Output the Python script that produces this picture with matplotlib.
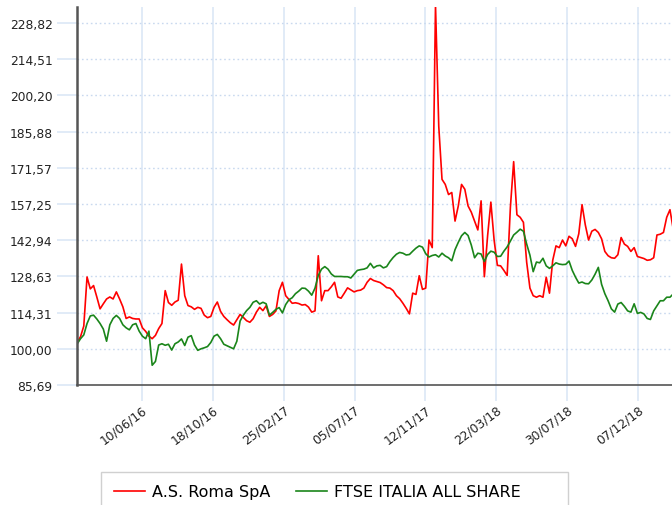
import numpy as np
import pandas as pd
import matplotlib
matplotlib.use('Agg')
import matplotlib.pyplot as plt
import matplotlib.dates as mdates
from matplotlib.patches import Rectangle

# weekly-ish closes, rebased to 100
dates = pd.date_range('2016-02-13', '2019-02-09', periods=184)

roma = [
    102.6, 104.8, 109.0, 128.4, 123.7, 125.0, 120.5, 115.8, 117.8, 119.7,
    120.5, 119.7, 122.5, 119.7, 116.6, 112.0, 112.6, 112.0, 111.8, 111.8,
    108.3, 106.9, 105.0, 104.0, 105.3, 108.0, 110.0, 123.0, 118.3, 117.2,
    118.5, 119.2, 133.5, 121.0, 117.1, 116.6, 115.6, 116.4, 116.0, 113.3,
    112.3, 112.8, 116.4, 118.5, 114.8, 112.8, 111.5, 110.3, 109.4, 111.5,
    113.6, 112.4, 111.1, 110.5, 111.9, 114.5, 116.4, 115.1, 117.0, 112.8,
    113.6, 115.0, 123.0, 126.3, 121.0, 119.5, 118.0, 118.2, 117.9, 117.3,
    117.5, 116.5, 114.5, 115.0, 136.8, 119.0, 123.0, 123.0, 124.5, 126.3,
    120.5, 120.0, 122.0, 124.1, 123.3, 122.5, 123.0, 123.2, 124.0, 126.3,
    127.8, 127.0, 126.6, 126.2, 125.3, 124.2, 124.0, 123.0, 121.0, 119.8,
    118.0, 116.0, 113.8, 122.0, 121.5, 128.9, 123.5, 124.0, 143.0, 140.0,
    236.0, 188.0, 167.0, 165.0, 161.0, 161.8, 150.5, 156.5, 165.0, 163.1,
    156.5, 154.0, 150.5, 147.0, 158.5, 128.5, 144.7, 158.0, 143.0, 133.0,
    132.8, 131.0, 129.0, 156.0, 174.0, 153.0, 152.0, 150.0, 134.2, 124.0,
    121.0, 120.4, 121.0, 120.4, 128.3, 122.0, 135.0, 140.7, 140.0, 143.0,
    140.7, 144.5, 143.5, 140.5, 145.5, 157.0, 149.0, 143.0, 146.5, 147.2,
    146.0, 143.5, 138.5, 136.8, 136.0, 135.8, 137.2, 144.0, 141.4, 140.5,
    138.5, 140.0, 136.5, 136.1, 135.7, 135.0, 135.2, 136.0, 145.0, 145.3,
    146.0, 152.0, 155.0, 147.3,
]

ftse = [
    102.0, 104.0, 105.5, 110.0, 113.0, 113.3, 111.8, 110.0, 107.8, 103.0,
    109.5, 112.0, 113.2, 112.0, 109.5, 108.3, 107.5, 109.5, 110.0, 107.0,
    105.0, 104.0, 107.0, 93.5, 95.0, 101.5, 102.0, 101.4, 101.8, 99.5,
    102.0, 102.7, 103.9, 101.3, 104.6, 105.2, 101.5, 99.4, 100.0, 100.4,
    100.9, 102.5, 105.0, 105.7, 104.0, 101.8, 101.2, 100.6, 100.0, 103.0,
    111.0, 113.3, 115.1, 116.4, 118.4, 119.0, 117.7, 118.4, 117.8, 113.3,
    114.4, 115.6, 116.3, 114.2, 117.5, 119.4, 120.2, 121.8, 122.8, 124.0,
    123.9, 122.8, 121.2, 124.0, 129.0, 131.5, 132.5, 131.5, 129.6, 128.6,
    128.6, 128.6, 128.5, 128.5, 128.0, 129.5, 131.0, 131.3, 131.5, 132.0,
    133.8, 132.0, 132.8, 133.0, 132.0, 132.5, 134.5, 136.1, 137.4, 138.1,
    137.8, 137.1, 137.3, 138.6, 139.8, 140.7, 140.2, 137.6, 136.3, 136.9,
    137.2, 136.3, 137.8, 136.7, 136.0, 134.8, 139.2, 142.1, 144.7, 146.0,
    144.8, 141.0, 136.0, 137.8, 137.5, 134.5, 137.3, 138.6, 138.2, 136.5,
    136.6, 138.6, 140.3, 142.6, 145.0, 146.1, 147.3, 146.5, 141.4, 137.0,
    130.5, 134.3, 134.0, 135.8, 132.8, 131.8, 132.8, 134.0, 133.5, 133.3,
    133.4, 134.7, 131.0, 128.3, 126.0, 126.4, 125.8, 125.7, 127.2, 129.5,
    132.2, 125.5, 121.8, 119.0, 115.8, 114.5, 117.7, 118.3, 116.8, 115.0,
    114.5, 117.8, 114.0, 114.4, 113.8, 112.0, 111.6, 115.0, 117.0, 119.0,
    119.0, 120.4, 120.4, 121.7,
]

series_names = ['A.S. Roma SpA', 'FTSE ITALIA ALL SHARE']
y_ticks = [85.69, 100.00, 114.31, 128.63, 142.94, 157.25, 171.57, 185.88, 200.20, 214.51, 228.82]
x_ticks = pd.date_range('2016-06-10', periods=8, freq='130D')

W, H = 672, 506
fig = plt.figure(figsize=(W / 100, H / 100), dpi=100)
ax = fig.add_axes([77 / W, 1 - 386 / H, (W - 77) / W, 378 / H])

grid_col = '#dbe7f6'
for d in x_ticks:
    ax.axvline(d, color=grid_col, lw=1.2, zorder=0)
for v in y_ticks[1:]:
    ax.axhline(v, color='#c9d9ef', lw=1, ls=(0, (1.2, 2)), zorder=0)

ax.plot(dates, roma, color='#ff0000', lw=1.2, label=series_names[0])
ax.plot(dates, ftse, color='#1a851a', lw=1.2, label=series_names[1])

ax.set_ylim(85.69, 235.15)
ax.set_xlim(pd.Timestamp('2016-02-12 12:00'), pd.Timestamp('2019-02-06 18:00'))

ax.set_yticks(y_ticks)
ax.set_yticklabels([f'{v:.2f}'.replace('.', ',') for v in y_ticks])
ax.set_xticks(x_ticks)
ax.xaxis.set_major_formatter(mdates.DateFormatter('%d/%m/%y'))

ax.tick_params(axis='y', length=14.5, width=1.2, color=grid_col, pad=3,
               labelsize=8.8, labelcolor='#222222')
ax.tick_params(axis='x', length=11.5, width=1.2, color=grid_col, pad=1.5,
               labelsize=8.8, labelcolor='#222222')
for lab in ax.get_xticklabels():
    lab.set_rotation(37)
    lab.set_ha('right')
    lab.set_rotation_mode('anchor')

for s in ['top', 'right']:
    ax.spines[s].set_visible(False)
ax.spines['left'].set_color('#555555')
ax.spines['left'].set_linewidth(1.8)
ax.spines['bottom'].set_color('#555555')
ax.spines['bottom'].set_linewidth(1.2)

# legend box
fig.patches.append(Rectangle((101 / W, 1 - 515 / H), 467 / W, 42 / H,
                             transform=fig.transFigure, fill=False,
                             edgecolor='#d0d0d0', lw=1))
fig.legend(loc='center left', bbox_to_anchor=(114 / W, 1 - 493 / H), ncol=2,
           frameon=False, fontsize=11.5, handlelength=1.95, handletextpad=0.42,
           columnspacing=1.6, borderpad=0, borderaxespad=0)

fig.savefig('out.png', dpi=100)
